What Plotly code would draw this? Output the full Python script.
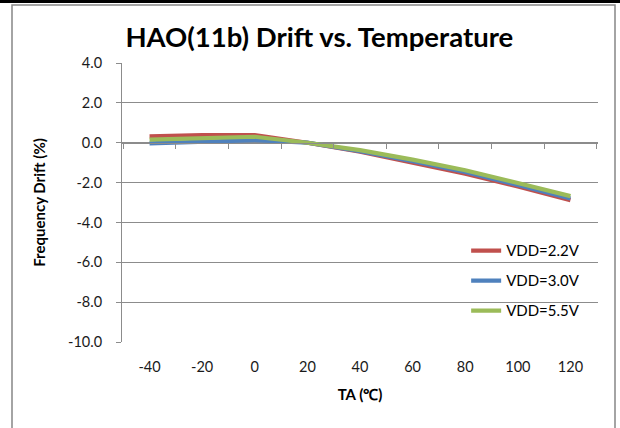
import plotly.graph_objects as go

temps = ["-40", "-20", "0", "20", "40", "60", "80", "100", "120"]
vdd_22 = [0.32, 0.38, 0.38, 0.0, -0.45, -0.98, -1.55, -2.20, -2.88]
vdd_30 = [-0.03, 0.05, 0.13, 0.0, -0.43, -0.93, -1.47, -2.12, -2.80]
vdd_55 = [0.15, 0.20, 0.30, 0.0, -0.37, -0.85, -1.38, -2.02, -2.68]
series_names = ["VDD=2.2V", "VDD=3.0V", "VDD=5.5V"]
colors = ["#C0504D", "#4F81BD", "#9BBB59"]
y_ticks = [4, 2, 0, -2, -4, -6, -8, -10]
y_ticktext = ["4.0", "2.0", "0.0", "-2.0", "-4.0", "-6.0", "-8.0", "-10.0"]

FONT = "Lato"
fig = go.Figure()
for i, (name, vals) in enumerate(zip(series_names, [vdd_22, vdd_30, vdd_55])):
    fig.add_trace(go.Scatter(x=temps, y=vals, mode="lines", name=name,
                             line=dict(color=colors[i], width=4.2),
                             legendgroup=name))
# invisible trace to host the axis line at y=0
fig.add_trace(go.Scatter(x=temps, y=[None]*len(temps), xaxis="x2", showlegend=False,
                         hoverinfo="skip"))

grid = "#8C8C8C"
fig.update_layout(
    width=620, height=428,
    margin=dict(l=122, r=22, t=63, b=86),
    paper_bgcolor="white", plot_bgcolor="white",
    font=dict(family=FONT, color="#000000", size=14),
    title=dict(text="<b>HAO(11b) Drift vs. Temperature</b>",
               font=dict(family=FONT, size=27.5, color="#000000"),
               x=0.515, xanchor="center", y=0.912, yanchor="middle"),
    showlegend=True,
    legend=dict(x=0.723, y=0.386, xanchor="left", yanchor="top",
                bgcolor="rgba(0,0,0,0)", font=dict(size=15, family=FONT),
                tracegroupgap=7.5, traceorder="grouped", itemwidth=30),
    xaxis=dict(type="category", showline=False, ticks="", showgrid=False,
               zeroline=False, ticklabelstandoff=14,
               tickfont=dict(size=14.5, color="#1a1a1a"),
               title=dict(text="<b>TA (℃)</b>", font=dict(size=15, family=FONT),
                          standoff=15)),
    xaxis2=dict(type="category", overlaying="x", anchor="free", position=10/14,
                side="bottom", matches="x", showline=True, linecolor=grid, linewidth=1,
                ticks="outside", tickson="boundaries", ticklen=5, tickcolor=grid,
                showticklabels=False, showgrid=False, zeroline=False),
    yaxis=dict(range=[-10, 4], tickvals=y_ticks, ticktext=y_ticktext,
               showline=True, linecolor=grid, linewidth=1, ticks="outside",
               ticklen=5, tickcolor=grid, showgrid=True, gridcolor=grid,
               gridwidth=1, zeroline=False, ticklabelstandoff=11,
               tickfont=dict(size=14.5, color="#1a1a1a"),
               title=dict(text="<b>Frequency Drift (%)</b>",
                          font=dict(size=15, family=FONT), standoff=18)),
)

# chart frame and top rule (decoration)
def px(x):
    return (x - 122) / 476
def py(y):
    return (342 - y) / 279
fig.add_shape(type="rect", xref="paper", yref="paper", x0=px(12), x1=px(615),
              y0=py(440), y1=py(5), line=dict(color="#868686", width=1.5),
              layer="above")
fig.add_shape(type="line", xref="paper", yref="paper", x0=px(-5), x1=px(625),
              y0=py(1.5), y1=py(1.5), line=dict(color="#000000", width=3),
              layer="above")

fig.write_html("out.html", config={"displayModeBar": False},
               post_script="document.body.style.margin='0';document.body.style.padding='0';")
